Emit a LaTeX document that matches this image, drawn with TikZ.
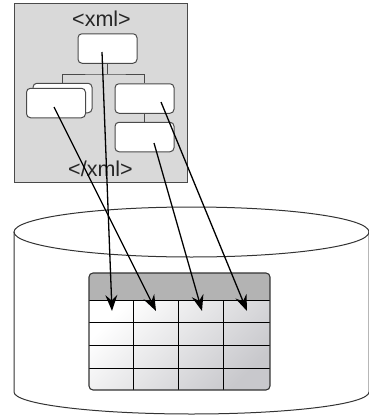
\documentclass[tikz,border=0pt]{standalone}
\usepackage{fontspec}
\setmainfont{Liberation Sans}
\usetikzlibrary{arrows.meta}
\definecolor{panel}{HTML}{D9D9D9}
\definecolor{edge}{HTML}{4A4A4A}
\definecolor{head}{HTML}{B3B3B3}
\definecolor{cellend}{HTML}{C8C8CC}
\tikzset{
  elem/.style={draw=edge, line width=1pt, fill=white, rounded corners=4pt,
    minimum width=59pt, minimum height=29.5pt, inner sep=0pt},
  tree/.style={draw=edge, line width=1pt},
  tag/.style={font=\fontsize{21.5}{24}\selectfont, text=black!85, anchor=base, inner sep=0pt},
  map/.style={draw=black, line width=1.3pt,
    -{Stealth[length=16pt,width=12pt,inset=5.5pt]}},
  drum/.style={draw=black!80, line width=1pt},
  grid/.style={draw=black, line width=1pt}
}
\begin{document}
\begin{tikzpicture}[x=1pt,y=-1pt]
\useasboundingbox (0,0) rectangle (368,415);

% XML document panel
\draw[draw=edge, line width=1pt, fill=panel] (14,3) rectangle (187,182);
\node[tag] (open) at (101.5,26.3) {<xml>};
\node[tag] (close) at (100.5,176.7) {</xml>};

% element tree
\node[elem] (root) at (107.5,48.5) {};
\node[elem] (lb) at (62.5,98) {};
\node[elem] (lf) at (56,103) {};
\node[elem] (rt) at (144.5,98.5) {};
\node[elem] (rl) at (144.5,137) {};
\coordinate (j) at (107.5,74);
\draw[tree] (root.south) -- (j);
\draw[tree] (lb.north) |- (j) -| (rt.north);
\draw[tree] (rt.south) -- (rl.north);

% database cylinder
\draw[drum] (14,232) -- (14,392)
  arc[start angle=180, end angle=360, x radius=177.5pt, y radius=22pt]
  -- (369,232);
\draw[drum] (191.5,232) ellipse [x radius=177.5pt, y radius=25pt];

% relational table
\begin{scope}
  \clip[rounded corners=4pt] (89,273) rectangle (270,390);
  \fill[head] (89,273) rectangle (270,300);
  \shade[top color=white, bottom color=cellend, shading angle=45] (89,300) rectangle (270,390);
\end{scope}
\draw[grid] (89,300) -- (270,300);
\foreach \yy in {322,345,368} \draw[grid] (89,\yy) -- (270,\yy);
\foreach \xx in {133,178,223} \draw[grid] (\xx,300) -- (\xx,390);
\draw[draw=black!80, line width=1.1pt, rounded corners=4pt] (89,273) rectangle (270,390);

% field mappings
\coordinate (s1) at (102,52);
\coordinate (s2) at (54,107);
\coordinate (s3) at (154,143);
\coordinate (s4) at (161,102);
\coordinate (c1) at (112,311);
\coordinate (c2) at (156,311);
\coordinate (c3) at (202,311);
\coordinate (c4) at (247,311);
\draw[map] (s1) -- (c1);
\draw[map] (s2) -- (c2);
\draw[map] (s3) -- (c3);
\draw[map] (s4) -- (c4);
\end{tikzpicture}
\end{document}
